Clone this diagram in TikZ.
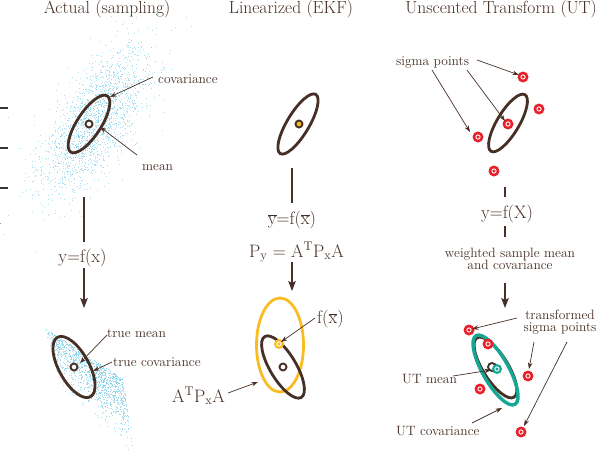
\documentclass[tikz,border=0pt]{standalone}
\usepackage{fontspec}
\usetikzlibrary{arrows.meta}
\definecolor{brn}{RGB}{70,48,38}
\definecolor{ylw}{RGB}{249,188,35}
\definecolor{redc}{RGB}{232,32,42}
\definecolor{tealc}{RGB}{22,166,148}
\definecolor{dotc}{RGB}{96,198,228}
\newcommand{\ovl}[1]{$\overline{\mbox{#1}}$}
\begin{document}
\begin{tikzpicture}[x=1pt,y=-1pt,
  lbl/.style={inner sep=0pt, text=brn, font=\fontsize{13.5}{12.5}\selectfont},
  ttl/.style={inner sep=0pt, text=brn, font=\fontsize{17.5}{20}\selectfont},
  eqn/.style={inner sep=0pt, text=brn, font=\fontsize{18}{20}\selectfont},
  thinarrow/.style={draw=brn, line width=0.7pt, -{Stealth[length=6.5pt,width=4.5pt]}},
  bigarrow/.style={draw=brn, line width=1.4pt, -{Stealth[length=10pt,width=7.5pt,inset=2pt]}},
  stem/.style={draw=brn, line width=1.4pt},
  ellb/.style={draw=brn, line width=2.8pt},
  elly/.style={draw=ylw, line width=2.8pt},
  ellt/.style={draw=tealc, line width=3.4pt},
  ring/.style={circle, draw=brn, line width=1.9pt, fill=white, inner sep=0pt, minimum size=7pt},
  sig/.style={circle, fill=#1, minimum size=11pt, inner sep=0pt,
    path picture={\draw[white, line width=0.9pt] (path picture bounding box.center) circle (2.1pt);}},
  sig/.default=redc,
  tick/.style={draw=black!80, line width=2pt}
]
\useasboundingbox (0,0) rectangle (608,458);
\fill[white] (0,0) rectangle (608,458);

% edge ticks
\draw[tick] (0,107.5) -- (7.5,107.5);
\draw[tick] (0,147.5) -- (7.5,147.5);
\draw[tick] (0,187.5) -- (7.5,187.5);
\fill[black!40] (0,223) rectangle (1,224);

% ---------- scatter clouds ----------
\pgfmathsetseed{12345}
\foreach \i in {1,...,1900}{
  \pgfmathsetmacro\rA{sqrt(-2*ln(max(rnd,0.0001)))}
  \pgfmathsetmacro\tA{360*rnd}
  \pgfmathsetmacro\gA{\rA*cos(\tA)}
  \pgfmathsetmacro\gB{\rA*sin(\tA)}
  \pgfmathsetmacro\px{95+\gA*42*0.545+\gB*18*0.839}
  \pgfmathsetmacro\py{120-\gA*42*0.839+\gB*18*0.545}
  \fill[dotc, opacity=0.5] (\px,\py) rectangle ++(1,1);
}
\foreach \i in {1,...,1300}{
  \pgfmathsetmacro\rA{sqrt(-2*ln(max(rnd,0.0001)))}
  \pgfmathsetmacro\tA{360*rnd}
  \pgfmathsetmacro\qa{abs(\rA*cos(\tA))*0.36}
  \pgfmathsetmacro\qb{rnd^0.85}
  \pgfmathtruncatemacro\ok{(\qa<1)*(\qb<1)}
  \ifnum\ok=1
    \pgfmathsetmacro\px{45+15*\qa+77*\qb-2*\qa*\qb}
    \pgfmathsetmacro\py{328+62*\qa+50*\qb+17*\qa*\qb}
    \fill[dotc, opacity=0.55] (\px,\py) rectangle ++(1,1);
  \fi
}

% ---------- titles ----------
\node[ttl, anchor=base] (t1) at (107,13.5) {Actual (sampling)};
\node[ttl, anchor=base] (t2) at (291,13.5) {Linearized (EKF)};
\node[ttl, anchor=base] (t3) at (501,13.5) {Unscented Transform (UT)};

% ---------- left column ----------
\coordinate (e1) at (89,124);
\draw[ellb, rotate around={57:(e1)}] (e1) ellipse [x radius=33.5pt, y radius=12pt];
\node[ring] (m1) at (e1) {};
\node[lbl, anchor=base west] (covl) at (158,83) {covariance};
\node[lbl, anchor=base west] (meanl) at (142,170) {mean};
\coordinate (covS) at (153,77); \coordinate (covE) at (110,97);
\coordinate (meanS) at (137,155); \coordinate (meanE) at (100,127);
\draw[thinarrow] (covS) -- (covE);
\draw[thinarrow] (meanS) -- (meanE);

\coordinate (s1a) at (84,197); \coordinate (s1b) at (84,242);
\draw[stem] (s1a) -- (s1b);
\node[eqn, anchor=base] (f1) at (82.5,262) {y=f(x)};
\coordinate (a1a) at (84,268); \coordinate (a1b) at (84,308);
\draw[bigarrow] (a1a) -- (a1b);

\coordinate (e2) at (74,367);
\draw[ellb, rotate around={-61:(e2)}] (e2) ellipse [x radius=34pt, y radius=15pt];
\node[ring] (m2) at (e2) {};
\node[lbl, anchor=base west] (tml) at (107,337) {true mean};
\node[lbl, anchor=base west] (tcl) at (113,366) {true covariance};
\coordinate (tmS) at (107,335); \coordinate (tmE) at (80,363);
\coordinate (tcS) at (112,362); \coordinate (tcE) at (93,371);
\draw[thinarrow] (tmS) -- (tmE);
\draw[thinarrow] (tcS) -- (tcE);

% ---------- middle column ----------
\coordinate (e3) at (298,124);
\draw[ellb, rotate around={59:(e3)}] (e3) ellipse [x radius=34.5pt, y radius=11pt];
\node[ring, fill=ylw] (m3) at (299,124) {};
\coordinate (s2a) at (292,168); \coordinate (s2b) at (292,203);
\draw[stem] (s2a) -- (s2b);
\node[eqn, anchor=base] (f2) at (292,224) {\ovl{y}=f(\ovl{x})};
\node[eqn, anchor=base] (py) at (296.5,257) {P\textsubscript{y} = A\textsuperscript{T}P\textsubscript{x}A};
\coordinate (a2a) at (292,262); \coordinate (a2b) at (292,291);
\draw[bigarrow] (a2a) -- (a2b);

\coordinate (e4) at (280,345);
\coordinate (e5) at (283,367);
\draw[elly] (e4) ellipse [x radius=23.5pt, y radius=47pt];
\draw[ellb, rotate around={-59:(e5)}] (e5) ellipse [x radius=35.5pt, y radius=13pt];
\node[sig=ylw, minimum size=10pt] (m4) at (279,344) {};
\node[ring] (m5) at (e5) {};
\node[eqn, anchor=base west] (fx) at (317,323) {f(\ovl{x})};
\node[eqn, anchor=base west] (apa) at (172,402) {A\textsuperscript{T}P\textsubscript{x}A};
\coordinate (fxS) at (315,318); \coordinate (fxE) at (281,342);
\coordinate (apS) at (228,393); \coordinate (apE) at (258,382);
\draw[thinarrow] (fxS) -- (fxE);
\draw[thinarrow] (apS) -- (apE);

% ---------- right column ----------
\coordinate (e6) at (508,123);
\draw[ellb, rotate around={59:(e6)}] (e6) ellipse [x radius=33pt, y radius=11pt];
\node[sig] (p1) at (523,77) {};
\node[sig] (p2) at (539,109) {};
\node[sig] (p0) at (508,124) {};
\node[sig] (p3) at (478,137) {};
\node[sig] (p4) at (494,171) {};
\node[lbl, anchor=base west] (spl) at (396,65) {sigma points};
\coordinate (sp1S) at (477,60); \coordinate (sp1E) at (519,75);
\coordinate (sp2S) at (432,70); \coordinate (sp2E) at (470,132);
\coordinate (sp3S) at (467,70); \coordinate (sp3E) at (505,121);
\draw[thinarrow] (sp1S) -- (sp1E);
\draw[thinarrow] (sp2S) -- (sp2E);
\draw[thinarrow] (sp3S) -- (sp3E);

\coordinate (s3a) at (505,187); \coordinate (s3b) at (505,197);
\draw[stem] (s3a) -- (s3b);
\node[eqn, anchor=base] (f3) at (507,218) {y=f(X)};
\coordinate (s4a) at (505,226); \coordinate (s4b) at (505,237);
\draw[stem] (s4a) -- (s4b);
\node[lbl, align=center] (wsm) at (510,259) {weighted sample mean\\and covariance};
\coordinate (a3a) at (505,283); \coordinate (a3b) at (505,308);
\draw[bigarrow] (a3a) -- (a3b);

\coordinate (e7) at (495.5,367.5);
\coordinate (e8) at (495.5,370);
\draw[ellb, rotate around={-58:(e7)}] (e7) ellipse [x radius=35pt, y radius=12.5pt];
\draw[ellt, rotate around={-60.5:(e8)}] (e8) ellipse [x radius=39.5pt, y radius=13pt];
\node[sig] (q1) at (469,330) {};
\node[sig] (q2) at (488,344) {};
\node[sig] (q3) at (528,376) {};
\node[sig] (q4) at (480,389) {};
\node[sig] (q5) at (521,432) {};
\node[circle, draw=brn, line width=1.9pt, inner sep=0pt, minimum size=8pt] (um0) at (492,367) {};
\node[sig=tealc, minimum size=10pt] (um) at (497,369) {};
\node[lbl, align=center] (tsp) at (560,322) {transformed\\sigma points};
\node[lbl, anchor=base west] (uml) at (402,383) {UT mean};
\node[lbl, anchor=base west] (ucl) at (396,435) {UT covariance};
\coordinate (ts1S) at (517,318); \coordinate (ts1E) at (472,329);
\coordinate (ts2S) at (534,342); \coordinate (ts2E) at (529,369);
\coordinate (ts3S) at (567,342); \coordinate (ts3E) at (524,426);
\coordinate (umS) at (453,376); \coordinate (umE) at (491,370);
\coordinate (ucS) at (472,423); \coordinate (ucE) at (502,408);
\draw[thinarrow] (ts1S) -- (ts1E);
\draw[thinarrow] (ts2S) -- (ts2E);
\draw[thinarrow] (ts3S) -- (ts3E);
\draw[thinarrow] (umS) -- (umE);
\draw[thinarrow] (ucS) -- (ucE);
\end{tikzpicture}
\end{document}
